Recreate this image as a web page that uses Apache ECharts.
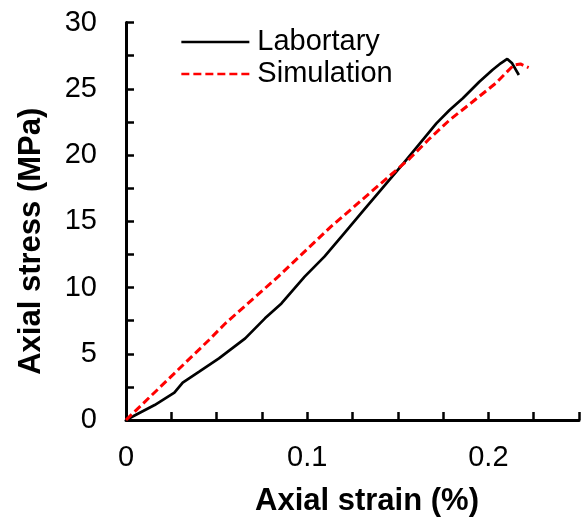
<!DOCTYPE html>
<html>
<head>
<meta charset="utf-8">
<script src="https://cdn.jsdelivr.net/npm/echarts@6/dist/echarts.min.js"></script>
<style>
html,body{margin:0;padding:0;background:#fff;}
#chart{width:582px;height:530px;}
</style>
</head>
<body>
<div id="chart"></div>
<script>
// Data (axial strain in %, axial stress in MPa)
const labStrain = [0, 0.0158, 0.0267, 0.0313, 0.0404, 0.0513, 0.0658, 0.0767, 0.0858, 0.0986, 0.1095, 0.1204, 0.1313, 0.1422, 0.1531, 0.1622, 0.1713, 0.1786, 0.1859, 0.195, 0.2022, 0.2068, 0.2104, 0.2131, 0.2168];
const labStress = [0, 1.13, 2.06, 2.82, 3.65, 4.65, 6.16, 7.67, 8.8, 10.82, 12.33, 14.09, 15.85, 17.61, 19.37, 20.88, 22.39, 23.4, 24.28, 25.53, 26.42, 26.92, 27.25, 26.92, 26.04];
const simStrain = [0, 0.0458, 0.0549, 0.084, 0.1131, 0.1567, 0.1677, 0.1786, 0.1913, 0.204, 0.214, 0.2177, 0.2222];
const simStress = [0, 6.04, 7.3, 10.82, 14.59, 19.75, 21.26, 22.64, 24.02, 25.41, 26.79, 26.87, 26.59];
const seriesNames = ['Labortary', 'Simulation'];
const xTickLabels = ['0', '0.1', '0.2'];
const xTitle = 'Axial strain (%)';
const yTitle = 'Axial stress (MPa)';

const pair = (xs, ys) => xs.map((x, i) => [x, ys[i]]);
const font = 'Liberation Sans, Arial, sans-serif';

const chart = echarts.init(document.getElementById('chart'), null, {renderer: 'canvas'});
chart.setOption({
  animation: false,
  backgroundColor: '#fff',
  grid: {left: 126, top: 22.5, bottom: 110, right: -2, containLabel: false},
  legend: {
    orient: 'vertical', left: 180, top: 27, padding: 0, itemWidth: 68, itemHeight: 28, itemGap: 2,
    itemStyle: {opacity: 0},
    lineStyle: {width: 2.7},
    textStyle: {fontFamily: font, fontSize: 29, color: '#000', lineHeight: 30, padding: [0,0,0,3]},
    data: seriesNames
  },
  xAxis: {
    type: 'value', min: 0, max: 0.25, interval: 0.025,
    name: xTitle, nameLocation: 'middle', nameGap: 66,
    nameTextStyle: {fontFamily: font, fontSize: 31, fontWeight: 'bold', color: '#000', padding: [0,0,0,29]},
    axisLine: {show: true, onZero: false, lineStyle: {color: '#000', width: 3}},
    axisTick: {show: true, inside: true, length: 8, lineStyle: {color: '#000', width: 2.5}},
    axisLabel: {
      margin: 23, fontFamily: font, fontSize: 29, color: '#000',
      formatter: v => {
        const k = Math.round(v * 40);
        return (k % 4 === 0) ? (xTickLabels[k / 4] || '') : '';
      }
    },
    splitLine: {show: false}
  },
  yAxis: {
    type: 'value', min: 0, max: 30, interval: 5,
    name: yTitle, nameLocation: 'middle', nameGap: 79,
    nameTextStyle: {fontFamily: font, fontSize: 31, fontWeight: 'bold', color: '#000', padding: [0,40,0,0]},
    axisLine: {show: true, onZero: false, lineStyle: {color: '#000', width: 3}},
    axisTick: {show: true, inside: true, length: 8, lineStyle: {color: '#000', width: 2.5}},
    minorTick: {show: true, splitNumber: 2, length: 8, lineStyle: {color: '#000', width: 2.5}},
    axisLabel: {margin: 29, fontFamily: font, fontSize: 29, color: '#000'},
    splitLine: {show: false}
  },
  series: [
    {
      name: seriesNames[0], type: 'line', data: pair(labStrain, labStress),
      symbol: 'none', smooth: false,
      lineStyle: {color: '#000', width: 2.7}, itemStyle: {color: '#000'}
    },
    {
      name: seriesNames[1], type: 'line', data: pair(simStrain, simStress),
      symbol: 'none', smooth: false,
      lineStyle: {color: '#ff0000', width: 3, type: [8, 4]}, itemStyle: {color: '#ff0000'}
    }
  ]
});
</script>
</body>
</html>
